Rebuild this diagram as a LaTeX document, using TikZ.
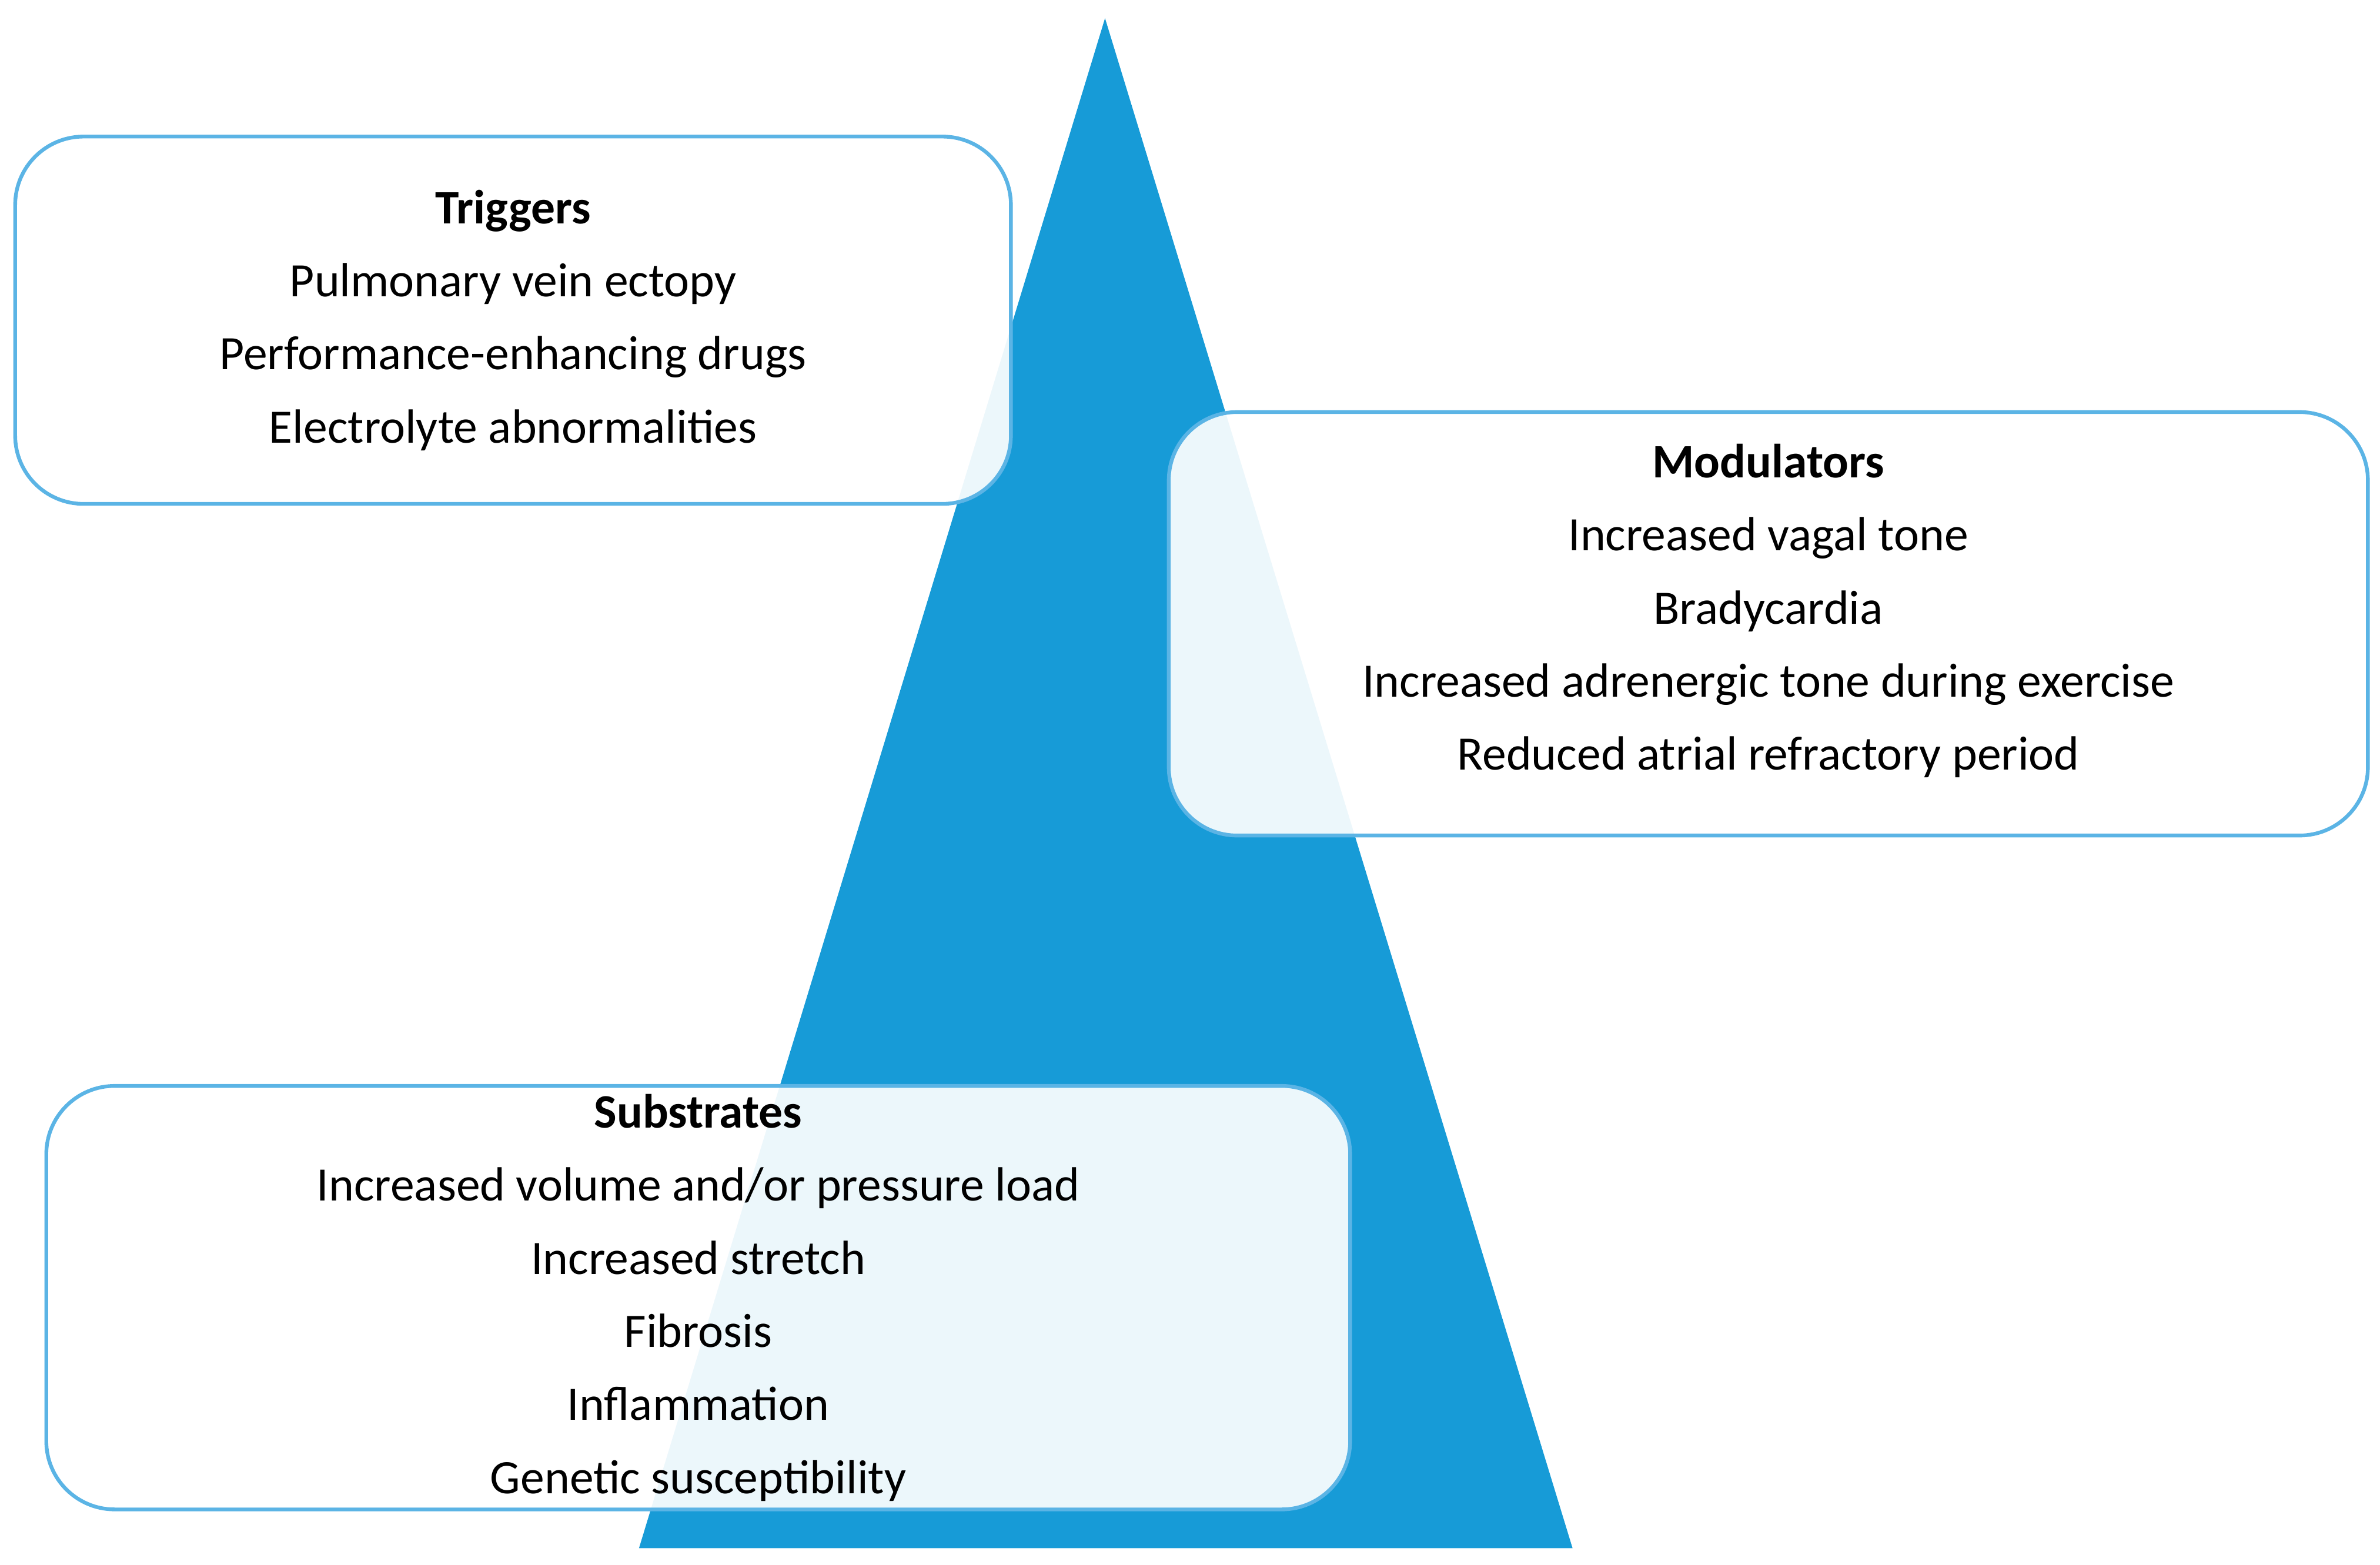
\documentclass[tikz,border=0pt]{standalone}
\usepackage{fontspec}
\setmainfont{Carlito}
\usetikzlibrary{positioning}
\definecolor{pyramid}{HTML}{179BD7}
\definecolor{boxline}{HTML}{5BB4E5}
\tikzset{
  factorbox/.style={draw=boxline, line width=0.7pt, fill=white, fill opacity=0.92,
    text opacity=1, rounded corners=0.45cm, align=center,
    font=\fontsize{9}{13.7}\selectfont, inner sep=0pt}
}
\begin{document}
\begin{tikzpicture}
  \useasboundingbox (0,0) rectangle (15.68,10.31);
  % pyramid
  \fill[pyramid] (4.21,0.11) -- (7.28,10.19) -- (10.36,0.11) -- cycle;

  % Triggers
  \node[factorbox, minimum width=6.56cm, minimum height=2.42cm] (triggers) at (3.38,8.20)
    {\textbf{Triggers}\\Pulmonary vein ectopy\\Performance-enhancing drugs\\Electrolyte abnormalities};

  % Modulators
  \node[factorbox, minimum width=7.90cm, minimum height=2.79cm] (modulators) at (11.65,6.20)
    {\textbf{Modulators}\\Increased vagal tone\\Bradycardia\\Increased adrenergic tone during exercise\\Reduced atrial refractory period\\[-0.26cm]};

  % Substrates
  \node[factorbox, minimum width=8.59cm, minimum height=2.79cm] (substrates) at (4.60,1.76)
    {\textbf{Substrates}\\Increased volume and/or pressure load\\Increased stretch\\Fibrosis\\Inflammation\\Genetic susceptibility};
\end{tikzpicture}
\end{document}
